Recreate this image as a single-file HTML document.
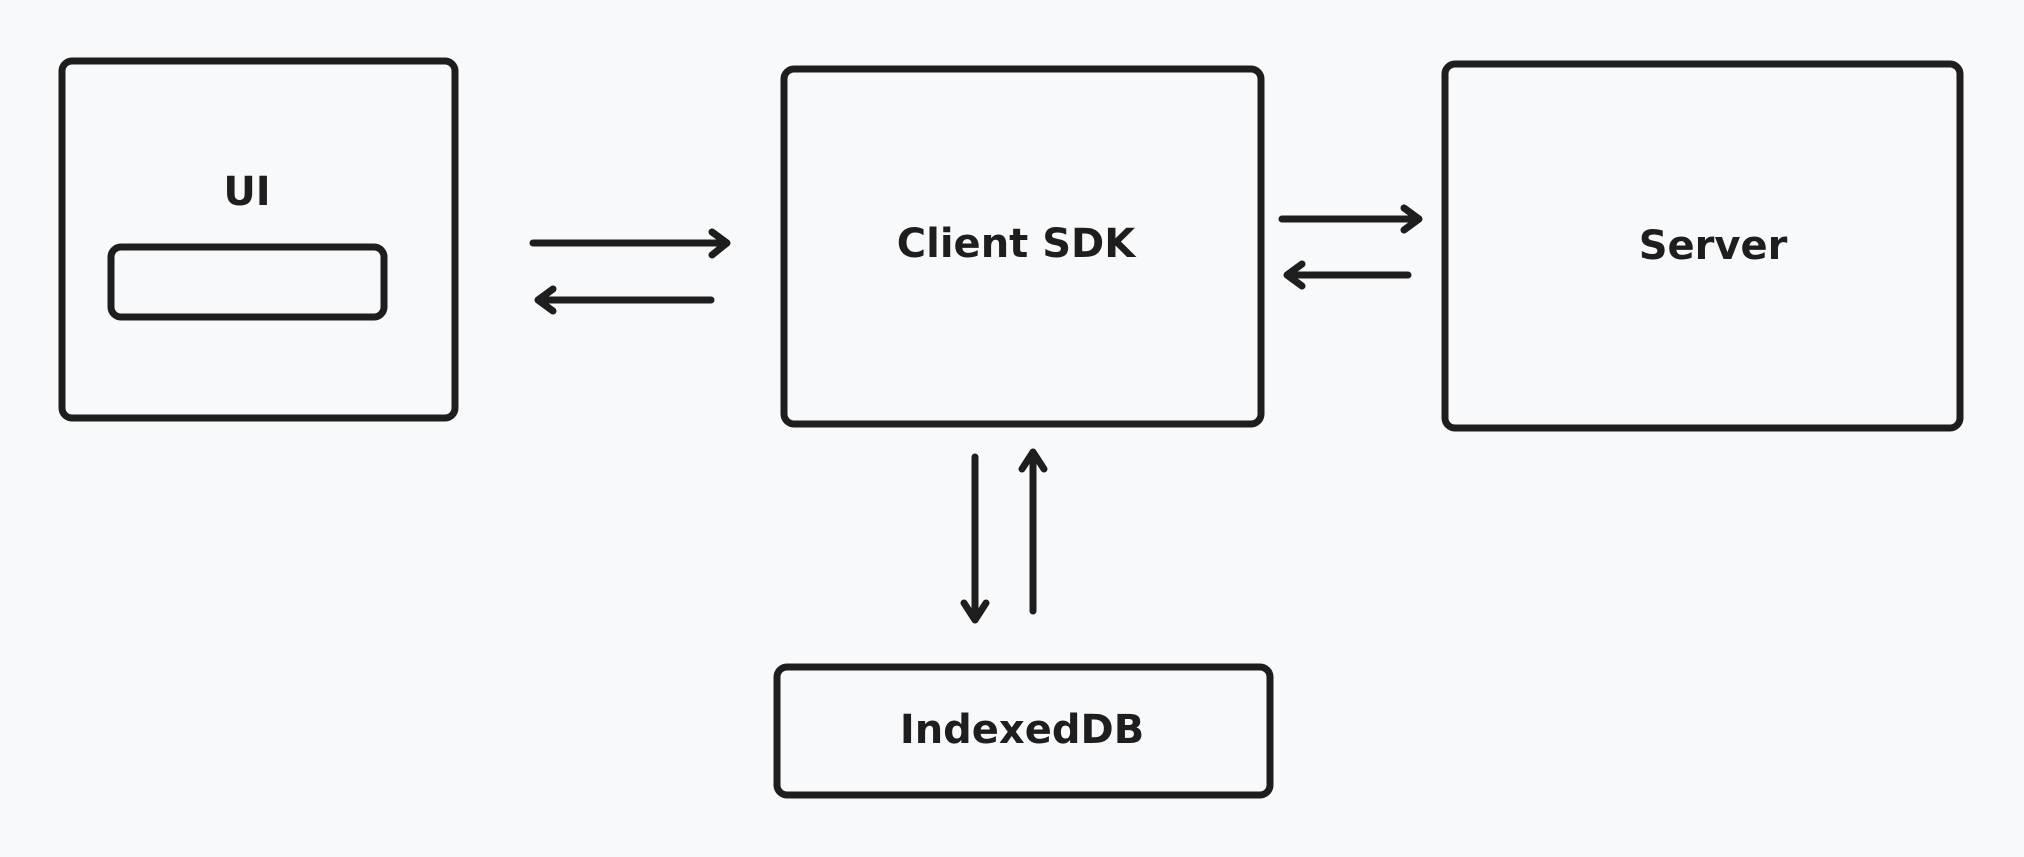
<!DOCTYPE html>
<html><head><meta charset="utf-8"><style>
html,body{margin:0;padding:0;background:#f8f9fb;}
svg{display:block}
text{font-family:"DejaVu Sans","Liberation Sans",sans-serif;font-weight:bold;fill:#1e1e1e;}
</style></head><body>
<svg width="2024" height="857" viewBox="0 0 2024 857" xmlns="http://www.w3.org/2000/svg">
<rect width="2024" height="857" fill="#f8f9fb"/>
<g fill="none" stroke="#1e1e1e" stroke-width="7" stroke-linecap="round" stroke-linejoin="round">
<rect x="62" y="61" width="393" height="357" rx="10"/>
<rect x="111" y="247" width="273" height="70" rx="10"/>
<rect x="784" y="69" width="477" height="355" rx="10"/>
<rect x="1445" y="64" width="515" height="364" rx="10"/>
<rect x="777" y="667" width="493" height="128" rx="10"/>
<path d="M533 243H727M712 232L727 243L712 255"/>
<path d="M538 300H711M553 289L538 300L553 311"/>
<path d="M1282 219H1419M1404 208L1419 219L1404 230"/>
<path d="M1287 275H1408M1302 264L1287 275L1302 286"/>
<path d="M975 457V620M964 603L975 620L986 603"/>
<path d="M1033 611V452M1022 469L1033 452L1044 469"/>
</g>
<g font-size="40" text-anchor="middle">
<text x="247" y="205">UI</text>
<text x="1016" y="257">Client SDK</text>
<text x="1713" y="259">Server</text>
<text x="1022" y="743">IndexedDB</text>
</g>
</svg>
</body></html>
